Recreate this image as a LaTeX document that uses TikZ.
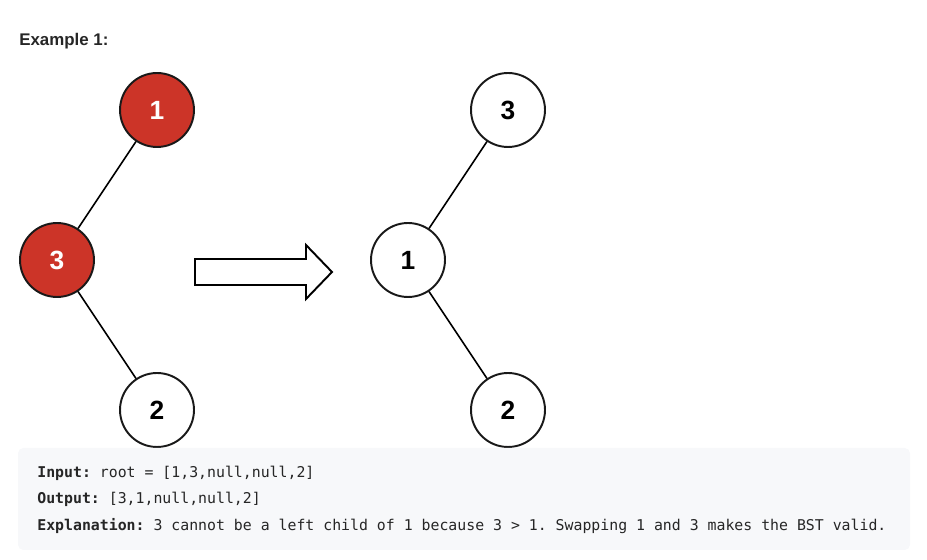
\documentclass[tikz,border=0pt]{standalone}
\usepackage{fontspec}
\setsansfont{Liberation Sans}
\setmonofont{DejaVu Sans Mono}
\definecolor{nodered}{RGB}{204,52,40}
\definecolor{codebg}{RGB}{247,248,250}
\definecolor{inktext}{RGB}{38,38,38}
\tikzset{
	treenode/.style={circle,draw=black!90,line width=1.1pt,minimum size=1.48cm,inner sep=0pt,font=\sffamily\bfseries\fontsize{15}{15}\selectfont},
	rednode/.style={treenode,fill=nodered,text=white},
	whitenode/.style={treenode,fill=white,text=black},
	codeline/.style={anchor=west,inner sep=0pt,text=inktext,font=\ttfamily\fontsize{8.45}{10}\selectfont},
}
\begin{document}
\begin{tikzpicture}[x=0.02cm,y=-0.02cm]
		\useasboundingbox (0,0) rectangle (927,560);
		\node[anchor=west,inner sep=0pt,text=inktext,font=\sffamily\bfseries\fontsize{9.6}{10}\selectfont] (title) at (19,41) {Example 1:};
		% tree before the swap
		\node[rednode] (a1) at (157,110) {1};
		\node[rednode] (a3) at (57,260) {3};
		\node[whitenode] (a2) at (157,410) {2};
		\draw[line width=0.9pt] (a1) -- (a3);
		\draw[line width=0.9pt] (a3) -- (a2);
		% hollow arrow
		\draw[line width=1.1pt,line join=miter,fill=white] (195,259) -- (306,259) -- (306,245) -- (332,272) -- (306,299) -- (306,285) -- (195,285) -- cycle;
		% tree after the swap
		\node[whitenode] (b3) at (508,110) {3};
		\node[whitenode] (b1) at (408,260) {1};
		\node[whitenode] (b2) at (508,410) {2};
		\draw[line width=0.9pt] (b3) -- (b1);
		\draw[line width=0.9pt] (b1) -- (b2);
		% code box
		\fill[codebg,rounded corners=3pt] (18,448) rectangle (910,550);
		\node[codeline] (inp) at (37,473) {\textbf{Input:} root = [1,3,null,null,2]};
		\node[codeline] (outp) at (37,499) {\textbf{Output:} [3,1,null,null,2]};
		\node[codeline] (expl) at (37,526) {\textbf{Explanation:} 3 cannot be a left child of 1 because 3 > 1. Swapping 1 and 3 makes the BST valid.};
	\end{tikzpicture}
\end{document}
